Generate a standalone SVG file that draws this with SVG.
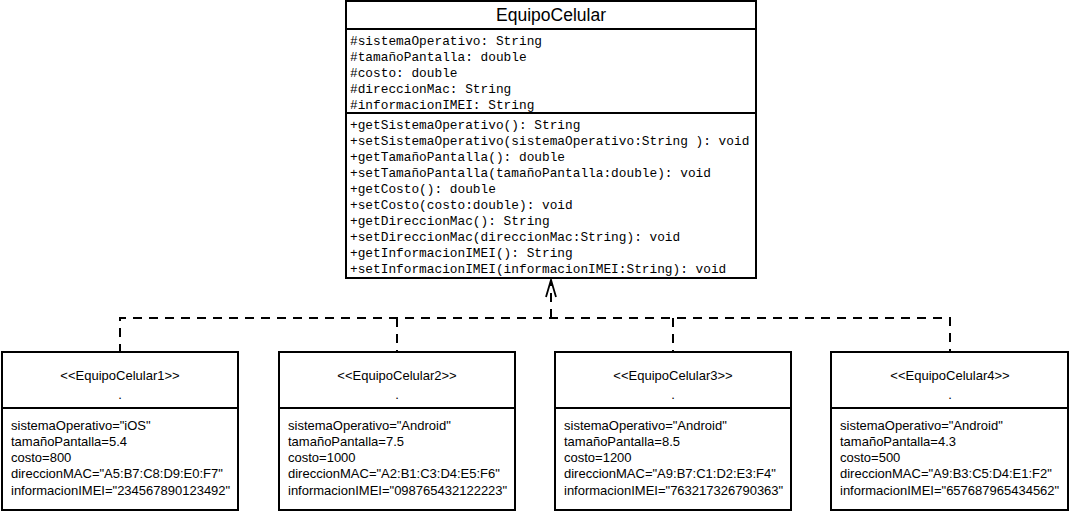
<svg xmlns="http://www.w3.org/2000/svg" width="1071" height="513" viewBox="0 0 1071 513">
<style>
.box{fill:#fff;stroke:#000;stroke-width:2}
.sep{stroke:#000;stroke-width:2}
.mono{font-family:"Liberation Mono","DejaVu Sans Mono",monospace;font-size:12.8px;fill:#000}
.sans{font-family:"Liberation Sans","DejaVu Sans",sans-serif;font-size:13px;fill:#000}
.title{font-family:"Liberation Sans","DejaVu Sans",sans-serif;font-size:17.5px;fill:#000}
.dash{fill:none;stroke:#000;stroke-width:2;stroke-dasharray:9 7}
</style>
<rect width="1071" height="513" fill="#fff"/>
<g id="connectors">
<path class="dash" d="M120,353 V318 H950 V353"/>
<path class="dash" d="M397,318 V353"/>
<path class="dash" d="M673,318 V353"/>
<path class="dash" d="M551,318 V281" stroke-dasharray="8 4"/>
<path d="M546,297 L551,280 L556,297" fill="none" stroke="#000" stroke-width="1.8"/>
</g>
<g id="EquipoCelular">
<rect class="box" x="346" y="1" width="410" height="277"/>
<line class="sep" x1="346" y1="29" x2="756" y2="29"/>
<line class="sep" x1="346" y1="113" x2="756" y2="113"/>
<text class="title" x="551" y="21" text-anchor="middle">EquipoCelular</text>
<text class="mono" x="350" y="45">#sistemaOperativo: String</text>
<text class="mono" x="350" y="61">#tamañoPantalla: double</text>
<text class="mono" x="350" y="77">#costo: double</text>
<text class="mono" x="350" y="93">#direccionMac: String</text>
<text class="mono" x="350" y="109">#informacionIMEI: String</text>
<text class="mono" x="350" y="129">+getSistemaOperativo(): String</text>
<text class="mono" x="350" y="145">+setSistemaOperativo(sistemaOperativo:String ): void</text>
<text class="mono" x="350" y="161">+getTamañoPantalla(): double</text>
<text class="mono" x="350" y="177">+setTamañoPantalla(tamañoPantalla:double): void</text>
<text class="mono" x="350" y="193">+getCosto(): double</text>
<text class="mono" x="350" y="209">+setCosto(costo:double): void</text>
<text class="mono" x="350" y="225">+getDireccionMac(): String</text>
<text class="mono" x="350" y="241">+setDireccionMac(direccionMac:String): void</text>
<text class="mono" x="350" y="257">+getInformacionIMEI(): String</text>
<text class="mono" x="350" y="273">+setInformacionIMEI(informacionIMEI:String): void</text>
</g>
<g id="EquipoCelular1">
<rect class="box" x="2" y="352" width="236" height="158"/>
<line class="sep" x1="2" y1="408" x2="238" y2="408"/>
<text class="sans" x="120" y="380" text-anchor="middle">&lt;&lt;EquipoCelular1&gt;&gt;</text>
<text class="sans" x="120" y="399" text-anchor="middle">.</text>
<text class="sans" x="11" y="430">sistemaOperativo="iOS"</text>
<text class="sans" x="11" y="446">tamañoPantalla=5.4</text>
<text class="sans" x="11" y="462">costo=800</text>
<text class="sans" x="11" y="478">direccionMAC="A5:B7:C8:D9:E0:F7"</text>
<text class="sans" x="11" y="495">informacionIMEI="234567890123492"</text>
</g>
<g id="EquipoCelular2">
<rect class="box" x="279" y="352" width="236" height="158"/>
<line class="sep" x1="279" y1="408" x2="515" y2="408"/>
<text class="sans" x="397" y="380" text-anchor="middle">&lt;&lt;EquipoCelular2&gt;&gt;</text>
<text class="sans" x="397" y="399" text-anchor="middle">.</text>
<text class="sans" x="288" y="430">sistemaOperativo="Android"</text>
<text class="sans" x="288" y="446">tamañoPantalla=7.5</text>
<text class="sans" x="288" y="462">costo=1000</text>
<text class="sans" x="288" y="478">direccionMAC="A2:B1:C3:D4:E5:F6"</text>
<text class="sans" x="288" y="495">informacionIMEI="098765432122223"</text>
</g>
<g id="EquipoCelular3">
<rect class="box" x="555" y="352" width="236" height="158"/>
<line class="sep" x1="555" y1="408" x2="791" y2="408"/>
<text class="sans" x="673" y="380" text-anchor="middle">&lt;&lt;EquipoCelular3&gt;&gt;</text>
<text class="sans" x="673" y="399" text-anchor="middle">.</text>
<text class="sans" x="564" y="430">sistemaOperativo="Android"</text>
<text class="sans" x="564" y="446">tamañoPantalla=8.5</text>
<text class="sans" x="564" y="462">costo=1200</text>
<text class="sans" x="564" y="478">direccionMAC="A9:B7:C1:D2:E3:F4"</text>
<text class="sans" x="564" y="495">informacionIMEI="763217326790363"</text>
</g>
<g id="EquipoCelular4">
<rect class="box" x="831" y="352" width="237" height="158"/>
<line class="sep" x1="831" y1="408" x2="1068" y2="408"/>
<text class="sans" x="950" y="380" text-anchor="middle">&lt;&lt;EquipoCelular4&gt;&gt;</text>
<text class="sans" x="950" y="399" text-anchor="middle">.</text>
<text class="sans" x="840" y="430">sistemaOperativo="Android"</text>
<text class="sans" x="840" y="446">tamañoPantalla=4.3</text>
<text class="sans" x="840" y="462">costo=500</text>
<text class="sans" x="840" y="478">direccionMAC="A9:B3:C5:D4:E1:F2"</text>
<text class="sans" x="840" y="495">informacionIMEI="657687965434562"</text>
</g>
</svg>
